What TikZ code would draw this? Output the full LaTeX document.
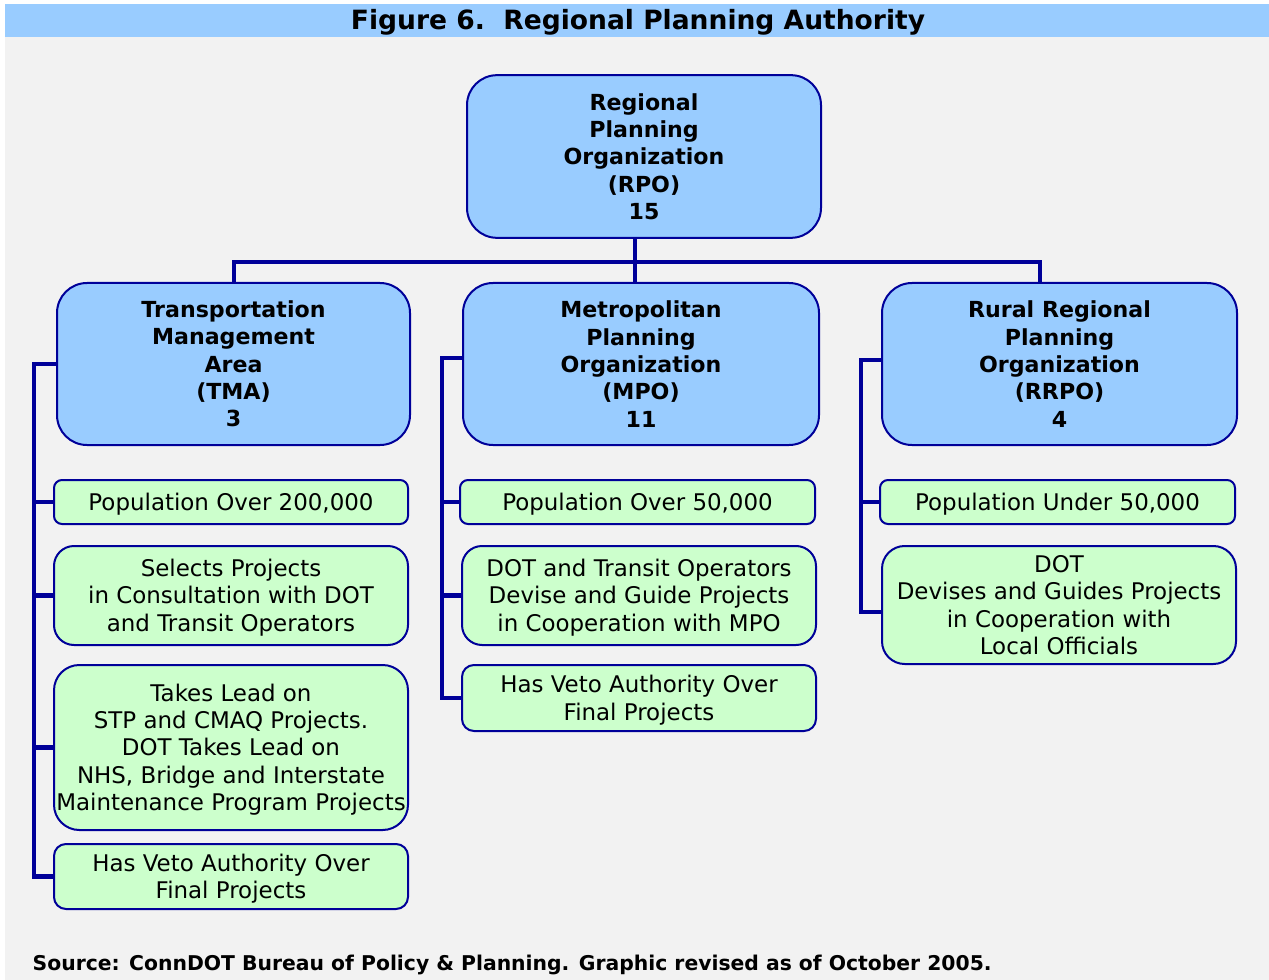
\documentclass[tikz,border=0pt]{standalone}
\usepackage{fontspec}
\setmainfont{DejaVu Sans}
\definecolor{bandblue}{HTML}{99CCFF}
\definecolor{leafgreen}{HTML}{CCFFCC}
\definecolor{navy}{HTML}{000099}
\definecolor{paper}{HTML}{F2F2F2}
% centred lines, set a little low inside their box
\newcommand\leaftext[1]{\raisebox{-2.25pt}[\height][\depth]{\begin{tabular}{@{}c@{}}#1\end{tabular}}}
\begin{document}
\begin{tikzpicture}[x=0.75pt,y=-0.75pt,
  head/.style={draw=navy, line width=1.5pt, fill=bandblue, rounded corners=22.5pt,
    align=center, inner sep=0pt, font=\bfseries\fontsize{16.6}{20.5}\selectfont},
  leaf/.style={draw=navy, line width=1.5pt, fill=leafgreen, rounded corners=#1,
    inner sep=0pt, font=\fontsize{17.2}{20.5}\selectfont},
  leaf/.default=15pt,
  conn/.style={draw=navy, line width=3.4pt, line join=miter}]
% page, background and title band
\useasboundingbox (0,0) rectangle (1269,980);
\fill[white] (0,0) rectangle (1269,980);
\fill[paper] (5,4) rectangle (1269,980);
\fill[bandblue] (5,4) rectangle (1269,37);
\node[font=\bfseries\fontsize{19.9}{22}\selectfont] (title) at (638,22)
  {Figure 6.\ \ Regional Planning Authority};

% top-level and second-level bodies
\node[head, minimum width=265.5pt, minimum height=122pt] (rpo) at (644,156.5)
  {Regional\\Planning\\Organization\\(RPO)\\15};
\node[head, minimum width=264.75pt, minimum height=121.5pt] (tma) at (233.5,364)
  {Transportation\\Management\\Area\\(TMA)\\3};
\node[head, minimum width=267pt, minimum height=121.5pt] (mpo) at (641,364)
  {Metropolitan\\Planning\\Organization\\(MPO)\\11};
\node[head, minimum width=266.25pt, minimum height=121.5pt] (rrpo) at (1059.5,364)
  {Rural Regional\\Planning\\Organization\\(RRPO)\\4};

% TMA column
\node[leaf=6pt, minimum width=265.5pt, minimum height=33pt] (l1) at (231,502)
  {\leaftext{Population Over 200,000}};
\node[leaf=15pt, minimum width=265.5pt, minimum height=74.25pt] (l2) at (231,595.5)
  {\leaftext{Selects Projects\\in Consultation with DOT\\and Transit Operators}};
\node[leaf=19pt, minimum width=265.5pt, minimum height=123.75pt] (l3) at (231,747.5)
  {\leaftext{Takes Lead on\\STP and CMAQ Projects.\\DOT Takes Lead on\\NHS, Bridge and Interstate\\Maintenance Program Projects}};
\node[leaf=9pt, minimum width=265.5pt, minimum height=48.75pt] (l4) at (231,876.5)
  {\leaftext{Has Veto Authority Over\\Final Projects}};

% MPO column
\node[leaf=6pt, minimum width=266.25pt, minimum height=33pt] (m1) at (637.5,502)
  {\leaftext{Population Over 50,000}};
\node[leaf=15pt, minimum width=265.5pt, minimum height=74.25pt] (m2) at (639,595.5)
  {\leaftext{DOT and Transit Operators\\Devise and Guide Projects\\in Cooperation with MPO}};
\node[leaf=9pt, minimum width=265.5pt, minimum height=49.5pt] (m3) at (639,698)
  {\leaftext{Has Veto Authority Over\\Final Projects}};

% RRPO column
\node[leaf=6pt, minimum width=266.25pt, minimum height=33pt] (r1) at (1057.5,502)
  {\leaftext{Population Under 50,000}};
\node[leaf=17pt, minimum width=265.5pt, minimum height=88.5pt] (r2) at (1059,605)
  {\leaftext{DOT\\Devises and Guides Projects\\in Cooperation with\\Local Officials}};

% bus from the top box to the three bodies
\coordinate (busM) at (635,262);
\coordinate (busL) at (234,262);
\coordinate (busR) at (1040,262);
\draw[conn] (rpo.south -| busM) -- (mpo.north -| busM);
\draw[conn] (tma.north -| busL) -- (busL) -- (busR) -- (rrpo.north -| busR);

% side rails
\coordinate (railL) at (34,0);
\coordinate (railM) at (442,0);
\coordinate (railR) at (861,0);
\draw[conn] (tma.west) -- (tma.west -| railL) -- (l4.west -| railL) -- (l4.west);
\draw[conn] (l1.west -| railL) -- (l1.west);
\draw[conn] (l2.west -| railL) -- (l2.west);
\draw[conn] (l3.west -| railL) -- (l3.west);
\draw[conn] (mpo.west |- 0,358) -- (railM |- 0,358) -- (m3.west -| railM) -- (m3.west);
\draw[conn] (m1.west -| railM) -- (m1.west);
\draw[conn] (m2.west -| railM) -- (m2.west);
\draw[conn] (rrpo.west |- 0,360) -- (railR |- 0,360) -- (railR |- 0,612) -- (r2.west |- 0,612);
\draw[conn] (r1.west -| railR) -- (r1.west);

% footnote
\node[anchor=west, font=\bfseries\fontsize{15.25}{18}\selectfont] (src) at (28,964.5)
  {Source: ConnDOT Bureau of Policy \& Planning. Graphic revised as of October 2005.};
\end{tikzpicture}
\end{document}
